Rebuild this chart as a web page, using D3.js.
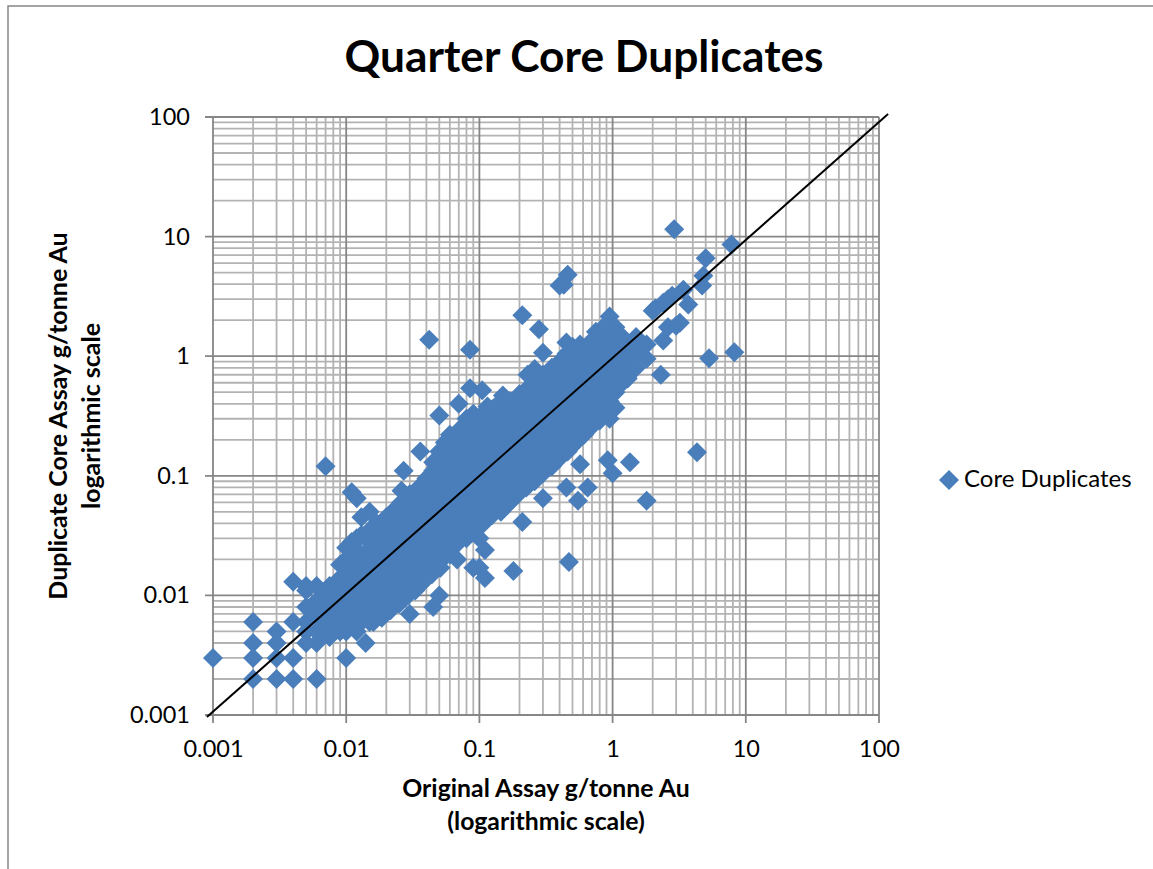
<!DOCTYPE html>
<html><head><meta charset="utf-8">
<script src="https://cdn.jsdelivr.net/npm/d3@7"></script>
<style>html,body{margin:0;padding:0;background:#fff}svg{display:block}text{font-family:Lato,"Open Sans",sans-serif;fill:#000}</style>
</head><body><svg id="c" width="1153" height="869"></svg>
<script>
const titleText = "Quarter Core Duplicates";
const xTitleLines = ["Original Assay g/tonne Au","(logarithmic scale)"];
const yTitleLines = ["Duplicate Core Assay g/tonne Au","logarithmic scale"];
const seriesName = "Core Duplicates";
const majorTicks = [0.001,0.01,0.1,1,10,100];
const tickLabels = ["0.001","0.01","0.1","1","10","100"];
const diagonalX = [0.0009,117];
const diagonalY = [0.00096,106];

// rows: original assay, then the duplicate assays read at that value
const lowGrade = [
[0.005,[.004,.005,.006,.008,.011]],[0.006,[.004,.005,.007,.009,.012]],[0.007,[.005,.006,.008,.01,.011]],
[0.008,[.005,.006,.007,.009,.012]],[0.009,[.005,.006,.008,.01,.014,.018]],[0.01,[.005,.006,.008,.011,.015,.02,.025]],
[0.011,[.006,.007,.009,.012,.017,.022,.028]],[0.012,[.005,.007,.01,.014,.019,.03]],[0.013,[.006,.008,.011,.016,.022,.032,.045]],
[0.015,[.006,.008,.012,.017,.024,.035,.05]],[0.017,[.007,.01,.014,.02,.028,.04]],[0.02,[.008,.011,.015,.022,.032,.045]],
[0.023,[.009,.013,.018,.026,.037,.052]],[0.026,[.01,.015,.022,.031,.043,.06,.075]],[0.03,[.012,.017,.025,.035,.05,.07]]
];
const midGrade = [
[0.035,[.013,.02,.029,.041,.058,.08]],[0.04,[.014,.022,.033,.047,.066,.095]],[0.045,[.016,.025,.037,.053,.075,.11,.13]],
[0.05,[.019,.028,.042,.06,.085,.125,.16]],[0.055,[.021,.031,.046,.067,.095,.14,.19]],[0.06,[.022,.034,.05,.073,.105,.15,.22]],
[0.07,[.028,.04,.058,.085,.12,.18,.24]],[0.08,[.03,.046,.067,.098,.14,.2,.3]],[0.09,[.034,.05,.075,.11,.16,.23,.33]],
[0.1,[.04,.058,.085,.125,.18,.26]],[0.115,[.045,.066,.098,.14,.2,.29,.38]],[0.13,[.05,.075,.11,.16,.23,.33]],
[0.15,[.06,.085,.125,.18,.26,.37,.47]],[0.17,[.07,.1,.145,.21,.3,.42]],[0.2,[.08,.115,.165,.24,.34,.48]]
];
const highGrade = [
[0.23,[.09,.13,.19,.27,.38,.54,.7]],[0.26,[.105,.15,.22,.31,.44,.62,.78]],[0.3,[.12,.17,.25,.35,.5,.7]],
[0.35,[.14,.2,.29,.41,.58,.8]],[0.4,[.16,.23,.33,.47,.66,.9]],[0.45,[.18,.26,.37,.53,.75,1.05,1.3]],
[0.5,[.2,.29,.42,.6,.85,1.2]],[0.57,[.24,.33,.48,.68,.95,1.25]],[0.65,[.26,.38,.55,.78,1.05]],
[0.75,[.3,.44,.63,.9,1.25,1.6]],[0.85,[.34,.5,.72,1.0,1.4,1.75]],[0.95,[.3,.42,.6,.85,1.2,1.6,2.15]],
[1.05,[.37,.5,.7,1.0,1.4,1.75]],[1.15,[.58,.8,1.1,1.5]],[1.3,[.65,.9,1.2]],[1.5,[.8,1.1,1.45]],[1.8,[.95,1.25]],
[2.0,[2.4]],[2.1,[2.5]],[2.3,[.7]],[2.4,[1.35,2.8]],[2.6,[1.75,3.0]],[2.8,[3.2]],[3.0,[1.8]],[3.2,[1.9]],[3.4,[3.6]],[3.7,[2.7]]
];
const denseBand = [
[.0075,[.0045,.0065,.009,.012]],[.0105,[.0055,.0075,.0105,.015,.021]],
[.012,[.006,.0085,.012,.017,.024]],[.014,[.007,.0098,.014,.02,.03]],[.016,[.006,.008,.011,.016,.023,.034]],
[.0185,[.0065,.009,.013,.019,.027,.04]],[.0215,[.0075,.0105,.015,.022,.031,.046]],[.025,[.0085,.012,.0175,.025,.036,.054]],
[.029,[.01,.014,.02,.03,.042,.062]],[.033,[.011,.016,.023,.034,.049,.072]],[.038,[.013,.018,.027,.039,.056,.082]],
[.044,[.015,.021,.031,.045,.065,.095]],[.051,[.017,.025,.036,.052,.075,.11]],[.059,[.024,.029,.041,.06,.087,.125,.18]],
[.068,[.027,.033,.048,.07,.1,.145,.21]],[.079,[.031,.038,.055,.081,.115,.17,.245]],[.092,[.036,.044,.064,.094,.135,.195,.28]],
[.107,[.04,.051,.075,.11,.155,.225,.33]],[.125,[.047,.06,.087,.127,.18,.26,.36]],[.145,[.05,.07,.1,.148,.21,.3,.42]],
[.17,[.06,.082,.118,.172,.25,.36]],[.195,[.07,.095,.135,.2,.285,.41]],[.225,[.08,.11,.158,.23,.33,.47]],
[.26,[.09,.125,.18,.265,.38,.55]],[.3,[.105,.145,.21,.305,.43,.62]],[.35,[.12,.17,.245,.355,.5,.72]],
[.4,[.14,.195,.28,.41,.58,.82]],[.46,[.16,.225,.325,.47,.67,.95]],[.53,[.19,.26,.375,.54,.77,1.1]],
[.61,[.22,.3,.43,.62,.88,1.15]],[.7,[.26,.345,.5,.71,1.0,1.35]],[.8,[.29,.4,.57,.82,1.15,1.55]],
[.92,[.34,.46,.66,.94,1.3,1.85]],[1.05,[.55,.85,1.2,1.55]]
];
const outlierX = [0.001,0.002,0.002,0.002,0.002,0.003,0.003,0.003,0.003,0.004,0.004,0.006,0.004,0.004,0.005,0.007,0.011,0.012,0.01,0.014,0.03,0.045,0.05,0.036,0.027,0.042,0.085,0.05,0.07,0.085,0.085,0.105,0.21,0.28,0.3,0.4,0.46,0.43,2.9,7.8,5,4.8,4.7,5.3,8.2,4.3,1.8,1.35,1,0.92,0.47,0.18,0.21,0.11,0.1,0.11,0.09,0.1,0.3,0.45,0.55,0.65,0.57,0.068];
const outlierY = [0.003,0.006,0.004,0.003,0.002,0.005,0.004,0.003,0.002,0.002,0.003,0.002,0.013,0.006,0.012,0.12,0.073,0.065,0.003,0.004,0.007,0.008,0.01,0.16,0.11,1.37,1.13,0.32,0.4,0.28,0.54,0.52,2.2,1.68,1.07,3.9,4.8,3.95,11.5,8.6,6.6,4.7,3.9,0.96,1.08,0.157,0.062,0.13,0.105,0.135,0.019,0.016,0.041,0.014,0.017,0.024,0.017,0.03,0.065,0.08,0.062,0.08,0.125,0.02];

const points = [];
[lowGrade,midGrade,highGrade,denseBand].forEach(g=>g.forEach(([x,ys])=>ys.forEach(y=>points.push([x,y]))));
outlierX.forEach((x,i)=>points.push([x,outlierY[i]]));

const svg = d3.select("#c");
const x = d3.scaleLog().domain([0.001,100]).range([213,879]);
const y = d3.scaleLog().domain([0.001,100]).range([715,117]);
const majorC="#868686", minorC="#b3b3b3", blue="#4a7ebb";

svg.append("path").attr("d","M8,869V6H1153").attr("fill","none").attr("stroke","#868686").attr("stroke-width",1.5);

const minors=[];
for(let d=0;d<5;d++)for(let m=2;m<=9;m++)minors.push(m*majorTicks[d]);
const g=svg.append("g");
g.selectAll(".mx").data(minors).join("line").attr("x1",d=>x(d)).attr("x2",d=>x(d)).attr("y1",117).attr("y2",715).attr("stroke",minorC).attr("stroke-width",1.8);
g.selectAll(".my").data(minors).join("line").attr("y1",d=>y(d)).attr("y2",d=>y(d)).attr("x1",213).attr("x2",879).attr("stroke",minorC).attr("stroke-width",1.8);
g.selectAll(".Mx").data(majorTicks).join("line").attr("x1",d=>x(d)).attr("x2",d=>x(d)).attr("y1",117).attr("y2",723).attr("stroke",majorC).attr("stroke-width",1.8);
g.selectAll(".My").data(majorTicks).join("line").attr("y1",d=>y(d)).attr("y2",d=>y(d)).attr("x1",205).attr("x2",879).attr("stroke",majorC).attr("stroke-width",1.8);

const fmt=d=>tickLabels[majorTicks.indexOf(d)];
const ax=svg.append("g").attr("transform","translate(0,715)").call(d3.axisBottom(x).tickValues(majorTicks).tickFormat(fmt).tickSize(0).tickPadding(25));
const ay=svg.append("g").attr("transform","translate(213,0)").call(d3.axisLeft(y).tickValues(majorTicks).tickFormat(fmt).tickSize(0).tickPadding(23));
[ax,ay].forEach(a=>{a.select(".domain").remove();a.selectAll("text").attr("font-size",23.5).style("font-family","Lato,sans-serif").attr("fill","#000");});

const diamond=d3.symbol().type(d3.symbolDiamond2).size(255);
svg.append("g").selectAll("path").data(points).join("path").attr("d",diamond).attr("fill",blue)
 .attr("transform",d=>`translate(${x(d[0])},${y(d[1])})`);

svg.append("path").attr("d",d3.line().x(d=>x(d[0])).y(d=>y(d[1]))(diagonalX.map((v,i)=>[v,diagonalY[i]]))).attr("stroke","#000").attr("stroke-width",2).attr("fill","none");

svg.append("text").attr("x",584).attr("y",72).attr("text-anchor","middle").attr("font-size",44.3).attr("font-weight",700).text(titleText);
xTitleLines.forEach((t,i)=>svg.append("text").attr("x",546).attr("y",797+i*33).attr("text-anchor","middle").attr("font-size",24.8).attr("font-weight",700).text(t));
yTitleLines.forEach((t,i)=>svg.append("text").attr("transform",`translate(${67+i*33},416) rotate(-90)`).attr("text-anchor","middle").attr("font-size",25).attr("font-weight",700).text(t));

svg.append("path").attr("d",diamond).attr("fill",blue).attr("transform","translate(949,480)");
svg.append("text").attr("x",964).attr("y",487).attr("font-size",24).text(seriesName);
</script></body></html>
